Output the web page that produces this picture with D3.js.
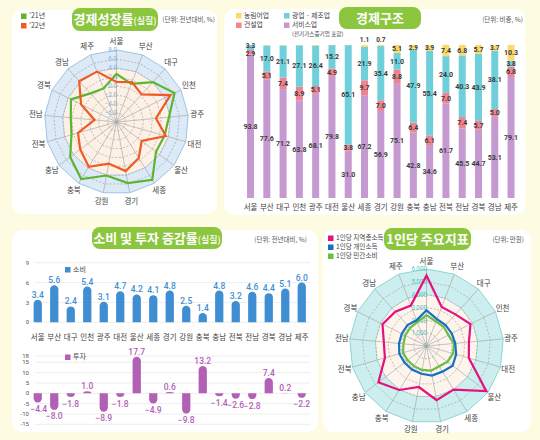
<!DOCTYPE html>
<html><head><meta charset="utf-8">
<script src="https://cdn.jsdelivr.net/npm/d3@7"></script>
<style>
body{margin:0;background:#fdfbe2;}
svg{display:block;font-family:"Noto Sans CJK KR","Noto Sans",sans-serif;}
</style></head><body>
<svg id="c" width="540" height="440"></svg>
<script>
// ---------------- DATA ----------------
const regions = ["서울","부산","대구","인천","광주","대전","울산","세종","경기","강원","충북","충남","전북","전남","경북","경남","제주"];
// 경제성장률(실질), %
const growth21 = [2.7, 1.1, 4.0, 6.4, 3.7, 3.1, 3.0, 7.1, 5.8, 4.1, 6.9, 4.9, 2.4, 2.2, 3.3, 0.6, 0.0];
const growth22 = [0.9, 1.5, 0.3, 5.4, 0.8, 3.4, -1.0, 1.4, 3.1, 1.4, 3.7, 2.1, 0.9, -3.1, 0.8, 4.3, 4.0];
const growthTicks = [-6, -4, -2, 0, 2, 4, 6, 8];
// 경제구조, 비중 %
const agriculture   = [0.0, 0.3, 0.3, 0.2, 0.4, 0.1, 0.1, 1.1, 0.7, 5.1, 2.9, 3.9, 7.4, 6.8, 5.7, 3.7, 10.3];
const manufacturing = [3.3, 17.0, 21.1, 27.1, 26.4, 15.2, 65.1, 21.9, 35.4, 11.0, 47.9, 55.4, 24.0, 40.3, 43.9, 38.1, 3.8];
const construction  = [2.9, 5.1, 7.4, 8.9, 5.1, 4.9, 3.8, 9.7, 7.0, 8.8, 6.4, 6.1, 7.0, 7.4, 5.7, 5.0, 6.8];
const services      = [93.8, 77.6, 71.2, 63.8, 68.1, 79.8, 31.0, 67.2, 56.9, 75.1, 42.8, 34.6, 61.7, 45.5, 44.7, 53.1, 79.1];
// 소비 및 투자 증감률(실질), %
const consumption = [3.4, 5.6, 2.4, 5.4, 3.1, 4.7, 4.2, 4.1, 4.8, 2.5, 1.4, 4.8, 3.2, 4.6, 4.4, 5.1, 6.0];
const investment  = [-4.4, -8.0, -1.8, 1.0, -8.9, -1.8, 17.7, -4.9, 0.6, -9.8, 13.2, -1.4, -2.6, -2.8, 7.4, 0.2, -2.2];
const consumptionTicks = [0, 3, 6, 9];
const investmentTicks = [-15, -10, -5, 0, 5, 10, 15, 18];
// 1인당 주요지표, 만원
const regionIncome   = [5500, 3270, 3340, 3830, 3320, 3430, 5840, 4000, 4290, 3250, 4030, 4700, 3370, 3340, 3830, 3610, 3380];
const personalIncome = [2780, 2250, 2200, 2200, 2250, 2400, 2550, 2350, 2350, 2200, 2150, 2150, 2200, 2150, 2150, 2200, 2150];
const privateConsumption = [2400, 2050, 2000, 1900, 2150, 2150, 2050, 1850, 1950, 1900, 1850, 1850, 1900, 1800, 1850, 1900, 2000];
const perCapitaTicks = [0, 1000, 2000, 3000, 4000, 5000, 6000];

// ---------------- DRAW ----------------
const svg = d3.select("#c");
const NUM = "Roboto, 'Noto Sans', sans-serif";
const TAB = "#8cc63f";

// panels
[[12,10,205,204],[224,9,301,206],[12,230,306,202],[323,230,208,202]].forEach(p=>{
  svg.append("rect").attr("x",p[0]).attr("y",p[1]).attr("width",p[2]).attr("height",p[3])
    .attr("rx",10).attr("fill","#fff");
});

function tab(x,y,w,h,main,sub){
  svg.append("rect").attr("x",x).attr("y",y).attr("width",w).attr("height",h).attr("rx",8).attr("fill",TAB);
  const t = svg.append("text").attr("x",x+w/2).attr("y",y+h/2+4.5).attr("text-anchor","middle")
    .attr("fill","#fff").attr("font-weight",700).attr("font-size",13).text(main);
  if(sub) t.append("tspan").attr("font-size",9).attr("font-weight",500).text(sub);
}
tab(72,8,86,23,"경제성장률","(실질)");
tab(339,7,82,22,"경제구조","");
tab(92,227,130,22,"소비 및 투자 증감률","(실질)");
tab(384,228,87,22,"1인당 주요지표","");

function unit(x,y,s){
  svg.append("text").attr("x",x).attr("y",y).attr("text-anchor","end").attr("font-size",6.5)
    .attr("fill","#555").text(s);
}
unit(215,22,"(단위: 전년대비, %)");
unit(523,22,"(단위: 비중, %)");
unit(307,242,"(단위: 전년대비, %)");
unit(524,242,"(단위: 만원)");

function legendItem(x,y,color,label,fs){
  svg.append("rect").attr("x",x).attr("y",y-2.5).attr("width",5.5).attr("height",5.5).attr("fill",color);
  svg.append("text").attr("x",x+8).attr("y",y+2.3).attr("font-size",fs||7).attr("fill","#444").text(label);
}

// ---------- radar helper ----------
function radar(o){
  const n = regions.length;
  const r = d3.scaleLinear().domain(o.domain).range([0,o.R]);
  const ang = i => i*2*Math.PI/n;
  const pt = (i,rad)=>[o.cx+rad*Math.sin(ang(i)), o.cy-rad*Math.cos(ang(i))];
  const closed = d3.line().curve(d3.curveLinearClosed);
  const ring = v => closed(regions.map((_,i)=>pt(i,r(v))));
  const g = svg.append("g");
  g.append("path").attr("d",ring(o.domain[1])).attr("fill",o.band);
  g.append("path").attr("d",ring(o.bandFrom)).attr("fill",o.inner).attr("stroke",o.ringColor).attr("stroke-width",0.6);
  o.levels.forEach(v=>{
    if(v===o.domain[1]) return;
    g.append("path").attr("d",ring(v)).attr("fill","none").attr("stroke","#9a9a9a")
      .attr("stroke-width",0.6).attr("stroke-dasharray","2,1.6");
  });
  regions.forEach((_,i)=>{
    const p = pt(i,o.R);
    g.append("line").attr("x1",o.cx).attr("y1",o.cy).attr("x2",p[0]).attr("y2",p[1])
      .attr("stroke","#a0a0a0").attr("stroke-width",0.6);
  });
  g.append("path").attr("d",ring(o.domain[1])).attr("fill","none").attr("stroke",o.ringColor).attr("stroke-width",1);
  o.levels.forEach(v=>{
    g.append("text").attr("x",o.cx+0.5).attr("y",o.cy-r(v)+2.3).attr("text-anchor","end")
      .attr("font-size",6.3).attr("font-family",NUM).attr("fill",o.tickColor).text(o.fmt(v));
  });
  o.series.forEach(s=>{
    g.append("path").attr("d",closed(s.values.map((v,i)=>pt(i,r(v)))))
      .attr("fill","none").attr("stroke",s.color).attr("stroke-width",2.2).attr("stroke-linejoin","miter");
  });
  regions.forEach((name,i)=>{
    const p = pt(i,o.R+o.labelGap);
    g.append("text").attr("x",p[0]).attr("y",p[1]+2.6).attr("text-anchor","middle")
      .attr("font-size",7.5).attr("fill","#444").text(name);
  });
}

radar({cx:116.5, cy:122, R:72, domain:[-8,8], bandFrom:4, levels:growthTicks,
  band:"#dce9f6", inner:"#fdf1e6", ringColor:"#9fc3e8", tickColor:"#86b4e2",
  fmt:d3.format(".1f"), labelGap:9,
  series:[{values:growth21,color:"#5cb531"},{values:growth22,color:"#f05a24"}]});
legendItem(21,16,"#5cb531","’21년",7);
legendItem(21,25.5,"#f05a24","’22년",7);

radar({cx:426.5, cy:346, R:77, domain:[0,6000], bandFrom:4000, levels:perCapitaTicks,
  band:"#cdeeee", inner:"#fdf4ec", ringColor:"#8dd5d5", tickColor:"#5fc3c3",
  fmt:d3.format(","), labelGap:8,
  series:[{values:privateConsumption,color:"#6cbd45"},{values:personalIncome,color:"#1570c0"},{values:regionIncome,color:"#e4117f"}]});
legendItem(328,238,"#e4117f","1인당 지역총소득",6.6);
legendItem(328,247,"#1570c0","1인당 개인소득",6.6);
legendItem(328,256,"#6cbd45","1인당 민간소비",6.6);

// ---------- stacked bars ----------
const table = regions.map((r,i)=>({region:r, services:services[i], construction:construction[i],
  manufacturing:manufacturing[i], agriculture:agriculture[i]}));
const keys = ["services","construction","manufacturing","agriculture"];
const colors = {services:"#c59ad0", construction:"#f0848e", manufacturing:"#6fcfda", agriculture:"#fcd96b"};
const xs = d3.scaleBand().domain(regions).range([242.4,519.2]).paddingInner(0.57).paddingOuter(0.285);
const ys = d3.scaleLinear().domain([0,100]).range([198,45]);
const stack = d3.stack().keys(keys)(table);
stack.forEach(layer=>{
  svg.append("g").selectAll("rect").data(layer).join("rect")
    .attr("x",d=>xs(d.data.region)).attr("width",xs.bandwidth())
    .attr("y",d=>ys(d[1])).attr("height",d=>ys(d[0])-ys(d[1]))
    .attr("fill",colors[layer.key]);
});
stack.forEach(layer=>{
  layer.forEach(d=>{
    const v = d.data[layer.key];
    if(layer.key==="agriculture" && v<0.5) return;
    let y = (ys(d[0])+ys(d[1]))/2;
    if(layer.key==="agriculture" && v<2) y = ys(100)-5;
    const h = ys(d[0])-ys(d[1]);
    if(h<6 && layer.key==="manufacturing" && d[1]>=99.9) y = ys(d[1])+1;
    if(h<6 && layer.key==="construction" && d.data.manufacturing<4 && d.data.agriculture<0.5) y += 1.5;
    svg.append("text").attr("x",xs(d.data.region)+xs.bandwidth()/2).attr("y",y+2.4)
      .attr("text-anchor","middle").attr("font-size",h<6?6.5:7).attr("font-weight",700)
      .attr("font-family",NUM).attr("fill","#3a3a3a").text(d3.format(".1f")(v));
  });
});
svg.append("g").selectAll("text").data(regions).join("text")
  .attr("x",d=>xs(d)+xs.bandwidth()/2).attr("y",209.5).attr("text-anchor","middle")
  .attr("font-size",7.5).attr("fill","#444").text(d=>d);
legendItem(236,15.5,"#fcd96b","농림어업",6.8);
legendItem(236,25,"#f0848e","건설업",6.8);
legendItem(284,15.5,"#6fcfda","광업 · 제조업",6.8);
legendItem(284,25,"#c59ad0","서비스업",6.8);
svg.append("text").attr("x",292).attr("y",36).attr("font-size",5.6).attr("fill","#444").text("(전기가스증기업 포함)");

// ---------- consumption / investment ----------
const xb = d3.scaleBand().domain(regions).range([29.5,310]).paddingInner(0.5).paddingOuter(0.25);
const yC = d3.scaleLinear().domain([0,9]).range([322.3,262.7]);
const yI = d3.scaleLinear().domain([-15,18]).range([424.3,356.1]);

function barPath(x,w,y0,y1){
  const h = Math.abs(y1-y0); const rr = Math.min(w/2,h);
  if(y1<=y0){
    return `M${x},${y0}V${y1+rr}A${w/2},${rr} 0 0 1 ${x+w},${y1+rr}V${y0}Z`;
  } else {
    return `M${x},${y0}V${y1-rr}A${w/2},${rr} 0 0 0 ${x+w},${y1-rr}V${y0}Z`;
  }
}
function grid(scale,ticks){
  ticks.forEach(t=>{
    svg.append("line").attr("x1",35).attr("x2",310).attr("y1",scale(t)).attr("y2",scale(t))
      .attr("stroke","#e6e6e6").attr("stroke-width",0.7);
    svg.append("text").attr("x",29).attr("y",scale(t)+2.1).attr("text-anchor","end")
      .attr("font-size",6).attr("font-family",NUM).attr("fill","#555").text(t);
  });
}
grid(yC,consumptionTicks);
grid(yI,investmentTicks);

svg.append("g").selectAll("path").data(consumption).join("path")
  .attr("d",(v,i)=>barPath(xb(regions[i]),xb.bandwidth(),yC(0),yC(v))).attr("fill","#3f8ed3");
svg.append("g").selectAll("text").data(consumption).join("text")
  .attr("x",(v,i)=>xb(regions[i])+xb.bandwidth()/2).attr("y",v=>yC(v)-2)
  .attr("text-anchor","middle").attr("font-size",8.5).attr("font-family",NUM).attr("font-weight",500)
  .attr("fill","#3f8ed3").text(d3.format(".1f"));

svg.append("g").selectAll("path").data(investment).join("path")
  .attr("d",(v,i)=>barPath(xb(regions[i]),xb.bandwidth(),yI(0),yI(v))).attr("fill","#b160b5");
svg.append("g").selectAll("text").data(investment).join("text")
  .attr("x",(v,i)=>xb(regions[i])+xb.bandwidth()/2+(i===0?1:0)).attr("y",v=>v>=0?yI(v)-2:yI(v)+9.5)
  .attr("text-anchor","middle").attr("font-size",8.5).attr("font-family",NUM).attr("font-weight",500)
  .attr("fill","#b160b5").text(d3.format(".1f"));

svg.append("g").selectAll("text").data(regions).join("text")
  .attr("x",d=>xb(d)+xb.bandwidth()/2).attr("y",339.5).attr("text-anchor","middle")
  .attr("font-size",7.5).attr("fill","#444").text(d=>d);

legendItem(65,269.5,"#3f8ed3","소비",7);
legendItem(65,357,"#b160b5","투자",7);
</script>
</body></html>
